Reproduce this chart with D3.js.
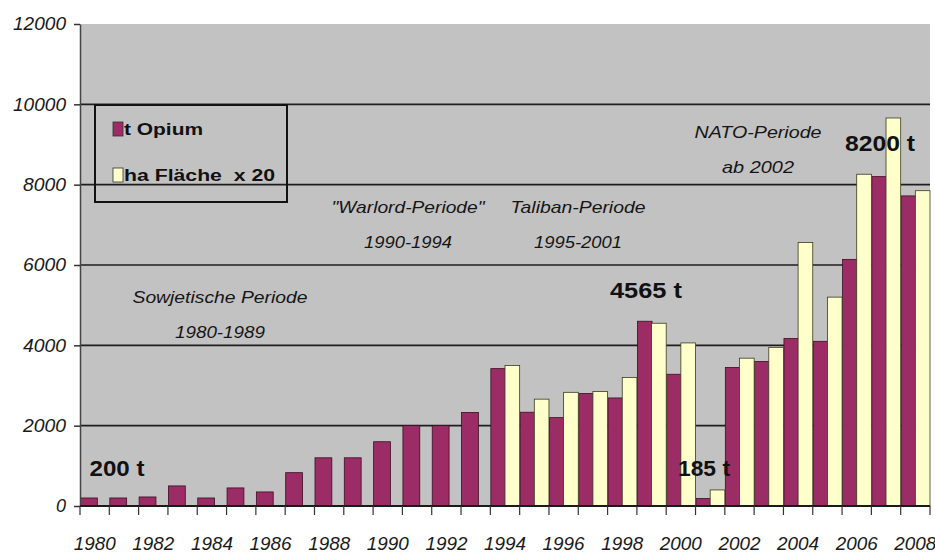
<!DOCTYPE html>
<html><head><meta charset="utf-8">
<script src="https://cdn.jsdelivr.net/npm/d3@7"></script>
<style>html,body{margin:0;padding:0;background:#fff;}svg{display:block;}</style>
</head><body>
<svg id="c" width="935" height="553"></svg>
<script>
const years = d3.range(1980, 2009);
const opium = [200,200,225,500,200,450,350,830,1200,1200,1600,2000,2000,2330,3420,2335,2200,2800,2690,4600,3280,185,3450,3600,4170,4100,6140,8200,7720];
const area  = [null,null,null,null,null,null,null,null,null,null,null,null,null,null,3500,2660,2830,2850,3200,4550,4060,400,3680,3950,6560,5200,8260,9660,7850];
const yTicks = [0,2000,4000,6000,8000,10000,12000];
const xTickLabels = [1980,1982,1984,1986,1988,1990,1992,1994,1996,1998,2000,2002,2004,2006,2008];
const legendLabels = ["t Opium","ha Fläche  x 20"];
const periods = [
  {l1:"Sowjetische Periode", l2:"1980-1989", x:220, y:297},
  {l1:"\"Warlord-Periode\"", l2:"1990-1994", x:408, y:207},
  {l1:"Taliban-Periode", l2:"1995-2001", x:578, y:207},
  {l1:"NATO-Periode", l2:"ab 2002", x:758, y:132}
];
const callouts = [
  {t:"200 t", x:117, y:468},
  {t:"4565 t", x:646, y:290},
  {t:"185 t", x:704, y:468},
  {t:"8200 t", x:880, y:143}
];

const svg = d3.select("#c");
const L=80, R=930, T=24, B=506;
const x = d3.scaleBand().domain(years).range([L,R]).padding(0);
const y = d3.scaleLinear().domain([0,12000]).range([B,T]);
const bw = x.bandwidth()/2;
const col1 = "#9b2c66", col2 = "#ffffcc";
const ff="Liberation Sans, Arial, sans-serif";

svg.append("rect").attr("x",L).attr("y",T).attr("width",R-L).attr("height",B-T).attr("fill","#c2c2c2");

// gridlines
svg.append("g").selectAll("line").data(yTicks.filter(d=>d>0&&d<12000)).join("line")
  .attr("x1",L).attr("x2",R).attr("y1",d=>y(d)).attr("y2",d=>y(d))
  .attr("stroke","#1e1e1e").attr("stroke-width",1.7);

// bars
svg.append("g").selectAll("rect").data(years).join("rect")
  .attr("x",d=>x(d)+0.5).attr("width",(d,i)=>area[i]==null?bw*1.15:bw)
  .attr("y",(d,i)=>y(opium[i])).attr("height",(d,i)=>B-y(opium[i]))
  .attr("fill",col1).attr("stroke","#3a1020").attr("stroke-width",0.8);
svg.append("g").selectAll("rect").data(years.filter((d,i)=>area[i]!=null)).join("rect")
  .attr("x",d=>x(d)+bw).attr("width",bw)
  .attr("y",d=>y(area[years.indexOf(d)])).attr("height",d=>B-y(area[years.indexOf(d)]))
  .attr("fill",col2).attr("stroke","#3a3a20").attr("stroke-width",0.8);

// y axis
const ya = svg.append("g").attr("transform",`translate(${L},0)`)
  .call(d3.axisLeft(y).tickValues(yTicks).tickSize(6).tickSizeOuter(0).tickFormat(d3.format("d")));
ya.select(".domain").attr("stroke","#444").attr("stroke-width",1.5);
ya.selectAll(".tick line").attr("stroke","#333").attr("stroke-width",1.5);
ya.selectAll(".tick text").attr("x",-14).attr("font-family",ff)
  .attr("font-style","italic").attr("font-size",18).attr("fill","#1a1a1a").attr("textLength",53).attr("lengthAdjust","spacingAndGlyphs");
ya.selectAll(".tick text").filter(d=>d<10000).attr("textLength",43);
ya.selectAll(".tick text").filter(d=>d===0).attr("textLength",null);

// x axis
const xa = svg.append("g").attr("transform",`translate(0,${B})`)
  .call(d3.axisBottom(x).tickValues(xTickLabels).tickSize(0).tickFormat(d3.format("d")));
xa.select(".domain").remove();
xa.selectAll(".tick text").attr("y",31).attr("font-family",ff)
  .attr("font-style","italic").attr("font-size",18).attr("fill","#1a1a1a").attr("textLength",42).attr("lengthAdjust","spacingAndGlyphs");
svg.append("line").attr("x1",L).attr("x2",R).attr("y1",B).attr("y2",B).attr("stroke","#1a1a1a").attr("stroke-width",2);
// category boundary ticks
svg.append("g").selectAll("line").data(years.concat([2009])).join("line")
  .attr("x1",d=>d===2009?R:x(d)).attr("x2",d=>d===2009?R:x(d)).attr("y1",B).attr("y2",B+9)
  .attr("stroke","#333").attr("stroke-width",1.2);

// legend
const lg = svg.append("g");
lg.append("rect").attr("x",95).attr("y",105).attr("width",192).attr("height",97).attr("fill","none").attr("stroke","#111").attr("stroke-width",2);
[col1,col2].forEach((c,i)=>{
  const yy = i===0?122:168;
  lg.append("rect").attr("x",113).attr("y",yy).attr("width",10).attr("height",14).attr("fill",c).attr("stroke","#333").attr("stroke-width",0.8);
  lg.append("text").attr("x",124).attr("y",yy+13).text(legendLabels[i])
    .attr("font-family",ff).attr("font-weight","bold").attr("font-size",16).attr("fill","#111")
    .attr("textLength",i===0?79:151).attr("lengthAdjust","spacingAndGlyphs").style("white-space","pre");
});

// period annotations
const pw = [[175,90],[153,88],[135,88],[127,72]];
periods.forEach((p,i)=>{
  svg.append("text").attr("x",p.x).attr("y",p.y+6).attr("text-anchor","middle").text(p.l1)
    .attr("font-family",ff).attr("font-style","italic").attr("font-size",17).attr("fill","#151515")
    .attr("textLength",pw[i][0]).attr("lengthAdjust","spacingAndGlyphs");
  svg.append("text").attr("x",p.x).attr("y",p.y+41).attr("text-anchor","middle").text(p.l2)
    .attr("font-family",ff).attr("font-style","italic").attr("font-size",17).attr("fill","#151515")
    .attr("textLength",pw[i][1]).attr("lengthAdjust","spacingAndGlyphs");
});

const cw = [55,72,52,70];
callouts.forEach((c,i)=>{
  svg.append("text").attr("x",c.x).attr("y",c.y+8).attr("text-anchor","middle").text(c.t)
    .attr("font-family",ff).attr("font-weight","bold").attr("font-size",22).attr("fill","#111")
    .attr("textLength",cw[i]).attr("lengthAdjust","spacingAndGlyphs");
});
</script>
</body></html>
